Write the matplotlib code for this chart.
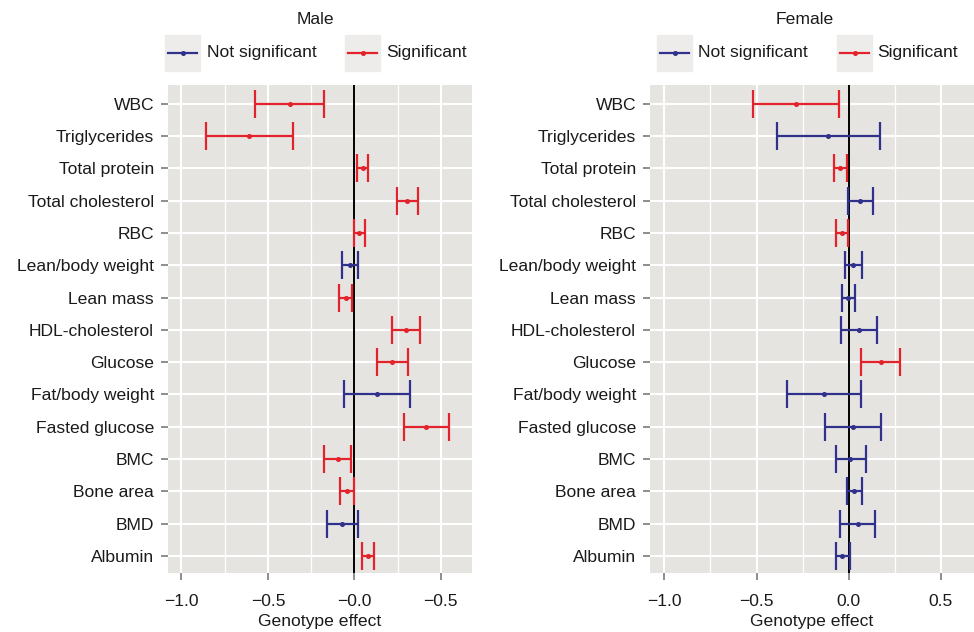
import matplotlib
matplotlib.use("Agg")
import matplotlib.pyplot as plt
from matplotlib.patches import Rectangle
from matplotlib.lines import Line2D
import numpy as np

plt.rcParams['font.family'] = ['Liberation Sans', 'DejaVu Sans']

traits = ["WBC", "Triglycerides", "Total protein", "Total cholesterol", "RBC",
          "Lean/body weight", "Lean mass", "HDL-cholesterol", "Glucose",
          "Fat/body weight", "Fasted glucose", "BMC", "Bone area", "BMD", "Albumin"]

male_est = [-0.374, -0.609, 0.047, 0.306, 0.027, -0.027, -0.050, 0.298, 0.217,
            0.132, 0.415, -0.095, -0.045, -0.072, 0.079]
male_lo = [-0.574, -0.857, 0.017, 0.244, -0.002, -0.070, -0.087, 0.217, 0.128,
           -0.062, 0.287, -0.174, -0.085, -0.157, 0.045]
male_hi = [-0.174, -0.355, 0.079, 0.368, 0.060, 0.019, -0.014, 0.382, 0.308,
           0.322, 0.548, -0.017, -0.004, 0.019, 0.114]
male_sig = [1, 1, 1, 1, 1, 0, 1, 1, 1, 0, 1, 1, 1, 0, 1]

female_est = [-0.288, -0.111, -0.046, 0.060, -0.036, 0.022, -0.004, 0.057, 0.175,
              -0.133, 0.024, 0.009, 0.031, 0.049, -0.036]
female_lo = [-0.520, -0.389, -0.078, -0.005, -0.068, -0.020, -0.036, -0.040, 0.069,
             -0.336, -0.128, -0.071, -0.011, -0.046, -0.071]
female_hi = [-0.051, 0.170, -0.007, 0.133, -0.002, 0.073, 0.036, 0.153, 0.281,
             0.069, 0.177, 0.095, 0.075, 0.142, 0.005]
female_sig = [1, 0, 1, 0, 1, 0, 0, 0, 1, 0, 0, 0, 0, 0, 0]

male_ticklabels = ["\u22121.0", "\u22120.5", "\u22120.0", "\u22120.5"]
female_ticklabels = ["\u22121.0", "\u22120.5", "0.0", "0.5"]
xticks = [-1.0, -0.5, 0.0, 0.5]

RED = "#E3232B"
BLUE = "#30318C"
PANEL = "#E6E4E1"
KEYBG = "#EDECEA"
FS = 12.6

W, H = 974, 632
fig = plt.figure(figsize=(W / 100, H / 100), dpi=100)


def fx(px):
    return px / W


def fy(py):
    return 1 - py / H


def panel(left, right, title, est, lo, hi, sig, ticklabels, leg):
    ax = fig.add_axes([fx(left), fy(573), fx(right - left), fy(85) - fy(573)])
    ax.set_facecolor(PANEL)
    for s in ax.spines.values():
        s.set_visible(False)
    ax.set_xlim(-1.078, 0.68)
    ax.set_ylim(len(traits) - 0.47, -0.58)
    ax.set_xticks(xticks)
    ax.set_xticks([-0.75, -0.25, 0.25], minor=True)
    ax.set_xticklabels(ticklabels)
    y = np.arange(len(traits))
    ax.set_yticks(y)
    ax.set_yticklabels(traits)
    ax.tick_params(axis='both', which='major', length=5, width=1.2, color="#7a7a7a",
                   labelsize=FS, labelcolor="#1a1a1a", pad=5)
    ax.tick_params(axis='x', which='major', pad=10)
    ax.tick_params(axis='x', which='minor', length=0)
    ax.grid(True, which='major', color='white', lw=1.5)
    ax.grid(True, which='minor', axis='x', color='white', lw=0.9)
    ax.set_axisbelow(True)
    ax.axvline(0, color='black', lw=1.4, zorder=2)
    est = np.array(est)
    lo = np.array(lo)
    hi = np.array(hi)
    for i in range(len(traits)):
        c = RED if sig[i] else BLUE
        ax.errorbar(est[i], y[i], xerr=[[est[i] - lo[i]], [hi[i] - est[i]]], fmt='o',
                    color=c, ms=2.6, elinewidth=1.6, capsize=10, capthick=1.6, zorder=3)
    ax.set_xlabel("Genotype effect", fontsize=FS, color="#1a1a1a", labelpad=4)
    fig.text(fx(title[1]), fy(19), title[0], ha='center', va='center', fontsize=FS,
             color="#1a1a1a")
    # legend drawn by hand so the keys get their grey boxes
    for (kx, tx, lab, c) in leg:
        fig.patches.append(Rectangle((fx(kx), fy(71)), fx(35), fy(35) - fy(71),
                                     transform=fig.transFigure, color=KEYBG, zorder=0))
        fig.lines.append(Line2D([fx(kx + 3), fx(kx + 32)], [fy(53), fy(53)],
                                transform=fig.transFigure, color=c, lw=1.6))
        fig.lines.append(Line2D([fx(kx + 17.5)], [fy(53)], transform=fig.transFigure,
                                color=c, marker='o', ms=2.6))
        fig.text(fx(tx), fy(53), lab, ha='left', va='center', fontsize=FS, color="#1a1a1a")
    return ax


panel(168, 472, ("Male", 315), male_est, male_lo, male_hi, male_sig, male_ticklabels,
      [(165, 207, "Not significant", BLUE), (345, 386, "Significant", RED)])
panel(650, 974, ("Female", 805), female_est, female_lo, female_hi, female_sig,
      female_ticklabels,
      [(657, 698, "Not significant", BLUE), (837, 877, "Significant", RED)])

fig.savefig("out.png", dpi=100)
